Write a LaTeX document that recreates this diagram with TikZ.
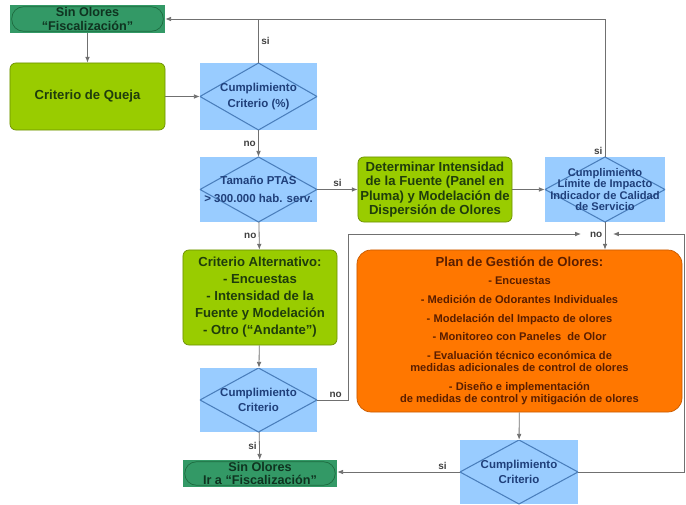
\documentclass[tikz,border=0pt]{standalone}
\usepackage{fontspec}
\setmainfont{Liberation Sans}
\usetikzlibrary{arrows.meta}

\definecolor{testfill}{HTML}{99CCFF}
\definecolor{testline}{HTML}{4A7EBB}
\definecolor{testtext}{HTML}{1F3F7A}
\definecolor{actfill}{HTML}{99CC00}
\definecolor{actline}{HTML}{6B8E00}
\definecolor{acttext}{HTML}{1F3D0C}
\definecolor{endfill}{HTML}{339966}
\definecolor{endline}{HTML}{1E6B40}
\definecolor{endtext}{HTML}{0F3320}
\definecolor{planfill}{HTML}{FF7700}
\definecolor{planline}{HTML}{C85A00}
\definecolor{plantext}{HTML}{5A1E00}
\definecolor{connline}{HTML}{707070}

\begin{document}
\begin{tikzpicture}[x=0.03cm, y=-0.03cm, font=\bfseries,
  testbox/.style={rectangle, fill=testfill, text=testtext, align=center, inner sep=0pt,
    font=\bfseries\fontsize{9.8}{13}\selectfont,
    path picture={\draw[testline, line width=0.9pt]
      (path picture bounding box.north) -- (path picture bounding box.east) --
      (path picture bounding box.south) -- (path picture bounding box.west) -- cycle;}},
  actbox/.style={rectangle, rounded corners=5pt, fill=actfill, draw=actline, line width=0.6pt,
    text=acttext, align=center, inner sep=0pt, font=\bfseries\fontsize{11.2}{14.5}\selectfont},
  endbox/.style={rectangle, fill=endfill, text=endtext, align=center, inner sep=0pt,
    font=\bfseries\fontsize{10.8}{11.5}\selectfont,
    path picture={\draw[endline, line width=0.6pt, rounded corners=10pt]
      ([xshift=1.5pt,yshift=-1.5pt]path picture bounding box.north west) rectangle
      ([xshift=-1.5pt,yshift=1.5pt]path picture bounding box.south east);}},
  planbox/.style={rectangle, rounded corners=12pt, fill=planfill, draw=planline, line width=0.6pt,
    text=plantext, align=center, inner sep=0pt, font=\bfseries\fontsize{9.5}{10.5}\selectfont},
  conn/.style={draw=connline, line width=0.7pt, -{Latex[length=5pt,width=4pt]}},
  line/.style={draw=connline, line width=0.7pt},
  lbl/.style={text=black!75, font=\bfseries\fontsize{8.5}{10}\selectfont, inner sep=2pt}]

  \useasboundingbox (0,0) rectangle (686,505);

  \node[endbox, minimum width=4.65cm, minimum height=0.84cm] (s1) at (87.5,19)
    {Sin Olores\\“Fiscalización”};
  \node[actbox, minimum width=4.65cm, minimum height=2.01cm] (queja) at (87.5,96.5)
    {Criterio de Queja};
  \node[testbox, minimum width=3.51cm, minimum height=2.01cm] (c1) at (258.5,96.5)
    {Cumplimiento\\Criterio (\%)};
  \node[testbox, minimum width=3.51cm, minimum height=1.95cm, font=\bfseries\fontsize{9.8}{15}\selectfont]
    (c2) at (258.5,189.5) {Tamaño PTAS\\> 300.000 hab. serv.};
  \node[actbox, minimum width=4.62cm, minimum height=1.95cm, font=\bfseries\fontsize{11.2}{12.4}\selectfont]
    (det) at (435,189.5)
    {Determinar Intensidad\\de la Fuente (Panel en\\Pluma) y Modelación de\\Dispersión de Olores};
  \node[testbox, minimum width=3.6cm, minimum height=1.95cm, font=\bfseries\fontsize{9.5}{9.8}\selectfont]
    (c3) at (605,189.5)
    {Cumplimiento\\Límite de Impacto\\Indicador de Calidad\\de Servicio};
  \node[actbox, minimum width=4.62cm, minimum height=2.85cm] (alt) at (260,297.5)
    {Criterio Alternativo:\\- Encuestas\\- Intensidad de la\\Fuente y Modelación\\- Otro (“Andante”)};
  \node[planbox, minimum width=9.75cm, minimum height=4.86cm] (plan) at (519.5,331)
    {{\fontsize{11.2}{12}\selectfont Plan de Gestión de Olores:}\\[5pt]
     - Encuestas\\[5.5pt]
     - Medición de Odorantes Individuales\\[5.5pt]
     - Modelación del Impacto de olores\\[5.5pt]
     - Monitoreo con Paneles\ \ de Olor\\[5.5pt]
     - Evaluación técnico económica de\\medidas adicionales de control de olores\\[5.5pt]
     - Diseño e implementación\\de medidas de control y mitigación de olores};
  \node[testbox, minimum width=3.51cm, minimum height=1.92cm, font=\bfseries\fontsize{9.8}{12.5}\selectfont]
    (c4) at (258.5,400) {Cumplimiento\\Criterio};
  \node[endbox, minimum width=4.62cm, minimum height=0.81cm] (s2) at (260,473.5)
    {Sin Olores\\Ir a “Fiscalización”};
  \node[testbox, minimum width=3.54cm, minimum height=1.92cm, font=\bfseries\fontsize{9.8}{12.5}\selectfont]
    (c5) at (519,472) {Cumplimiento\\Criterio};

  \coordinate (bendl) at (348,234);
  \coordinate (bendr) at (684,234);
  \coordinate (jl) at (581,234);
  \coordinate (jr) at (613,234);

  \draw[conn] (s1) -- (queja);
  \draw[conn] (queja) -- (c1);
  \draw[line] (c1.north) -- (c1.north |- s1.east) node[lbl, midway, right] {si};
  \draw[conn] (c3.north) |- (s1.east);
  \node[lbl, above left] at (c3.north) {si};
  \draw[conn] (c1) -- (c2) node[lbl, midway, left] {no};
  \draw[conn] (c2) -- (det) node[lbl, midway, above] {si};
  \draw[conn] (det) -- (c3);
  \draw[conn] (c3.south) -- (c3.south |- plan.north) node[lbl, pos=0.45, left] {no};
  \draw[conn] (c2) -- (alt) node[lbl, midway, left] {no};
  \draw[conn] (alt) -- (c4);
  \draw[conn] (c4.east) -| (bendl) node[lbl, pos=0.3, above] {no} -- (jl);
  \draw[conn] (c5.east) -| (bendr) -- (jr);
  \draw[conn] (c4) -- (s2) node[lbl, midway, left] {si};
  \draw[conn] (plan) -- (c5);
  \draw[conn] (c5.west) -- (c5.west -| s2.east) node[lbl, pos=0.14, above] {si};
\end{tikzpicture}
\end{document}
